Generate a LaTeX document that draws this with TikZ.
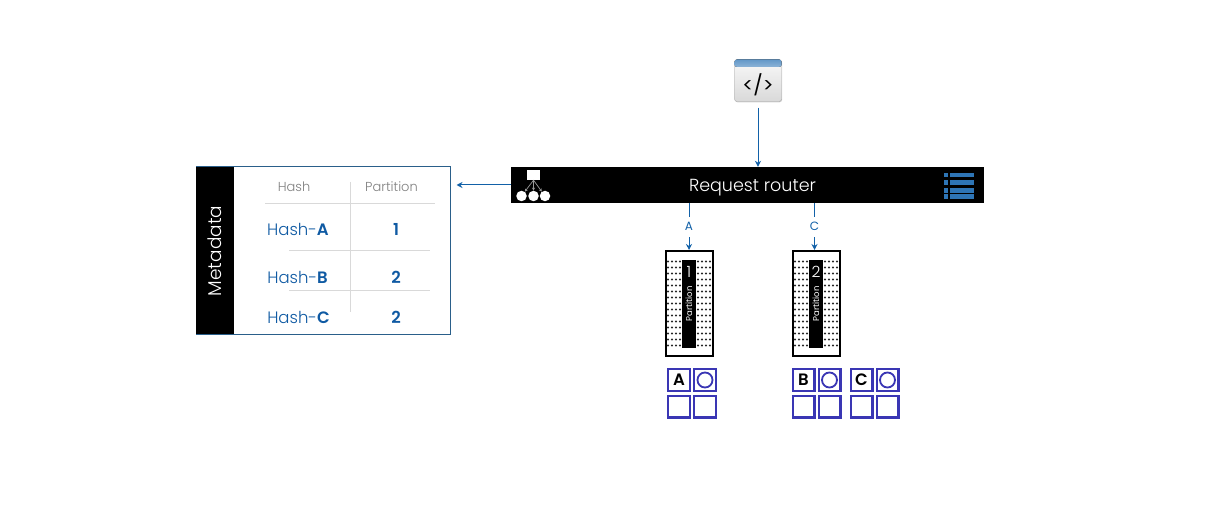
\documentclass[tikz,border=0pt]{standalone}
\usepackage{fontspec}
\setmainfont{Poppins Light}[BoldFont=Poppins SemiBold]
\newfontfamily\regfont{Poppins}
\usetikzlibrary{arrows.meta,shadows}
\definecolor{linkblue}{HTML}{1261A8}
\definecolor{textblue}{HTML}{0F5AA3}
\definecolor{slotblue}{HTML}{3A36B4}
\definecolor{framblue}{HTML}{2A5F8A}
\definecolor{listblue}{HTML}{2E75B6}
\definecolor{rulegray}{HTML}{D9D9D9}
\tikzset{
  link/.style={draw=linkblue,line width=1pt,-{Stealth[length=6pt,width=6pt]}},
  hashtext/.style={text=textblue,font=\fontsize{16.5}{17}\selectfont,inner sep=0pt},
  parttext/.style={text=textblue,font=\fontsize{16.5}{17}\selectfont\bfseries,inner sep=0pt},
  headtext/.style={text=gray,font=\fontsize{13}{13}\selectfont,inner sep=0pt},
  tablerule/.style={draw=rulegray,line width=1pt},
  slot/.style={draw=slotblue,line width=2.4pt,fill=white,minimum size=21.6pt,inner sep=0pt,
    font=\fontsize{16.5}{16}\selectfont\bfseries},
  partbox/.style={draw=black,line width=2pt,fill=white,minimum width=47pt,minimum height=105pt,inner sep=0pt},
  partbar/.style={fill=black,minimum width=14pt,minimum height=88pt,inner sep=0pt},
  linktext/.style={fill=white,text=linkblue,font=\regfont\fontsize{12}{12}\selectfont,inner xsep=2pt,minimum height=20pt}
}
\begin{document}
\begin{tikzpicture}[x=1pt,y=-1pt]
\useasboundingbox (0,0) rectangle (1206,518);
% client window
\node[draw=gray!70,rounded corners=2.5pt,minimum width=47pt,minimum height=42pt,inner sep=0pt,
  top color=white!95!gray,bottom color=gray!30,drop shadow={shadow xshift=0.6pt,shadow yshift=-0.8pt,opacity=.35}] (client) at (758,80.5) {};
\fill[rounded corners=2.5pt,top color=listblue!75,bottom color=listblue!55!white] (734.5,59.5) rectangle (781.5,67) -- cycle;
\node[font=\regfont\fontsize{20}{20}\selectfont,inner sep=0pt] (code) at (758,85) {</>};
% router
\node[fill=black,minimum width=473pt,minimum height=36pt,inner sep=0pt] (router) at (747.5,185) {};
\node[text=white,font=\fontsize{17.5}{18}\selectfont,inner sep=0pt] (routertext) at (752.5,187.5) {Request router};
\node[fill=white,minimum width=13pt,minimum height=10pt,inner sep=0pt] (roottree) at (533.5,175) {};
\foreach \n/\x in {a/521.5,b/533.5,c/545}{
  \node[circle,fill=white,minimum size=10.5pt,inner sep=0pt] (leaf\n) at (\x,196) {};
  \draw[gray!80,line width=.7pt,-{Stealth[length=3pt,width=3pt]}] (roottree.south) -- (leaf\n);
}
\foreach \y/\h in {172.7/4.6,180/5.2,187.6/5,194/5.2}{
  \fill[listblue] (943.5,\y) rectangle +(4.5,\h);
  \fill[listblue] (950,\y) rectangle +(23.5,\h);
}
% metadata table
\node[draw=framblue,line width=1pt,fill=white,minimum width=254pt,minimum height=167pt,inner sep=0pt] (meta) at (323,250.5) {};
\fill[black] (196,167) rectangle (234,334);
\node[rotate=90,text=white,font=\fontsize{18.5}{19}\selectfont,inner sep=0pt] (metatext) at (215,251) {Metadata};
\draw[tablerule] (265,203.5) -- (435,203.5);
\draw[tablerule] (289,250.5) -- (430,250.5);
\draw[tablerule] (289,291) -- (430,291);
\draw[tablerule] (350.5,182) -- (350.5,312);
\node[headtext] (hashhead) at (294,186.5) {Hash};
\node[headtext] (parthead) at (391.5,186.5) {Partition};
\node[hashtext] (hasha) at (298,229) {Hash-\textbf{A}};
\node[parttext] (parta) at (396,229) {1};
\node[hashtext] (hashb) at (297.5,277) {Hash-\textbf{B}};
\node[parttext] (partb) at (396,277) {2};
\node[hashtext] (hashc) at (298.5,317) {Hash-\textbf{C}};
\node[parttext] (partc) at (396,317) {2};
% partitions
\foreach \p/\x in {1/689,2/816}{
  \node[partbox] (part\p) at (\x,303.5) {};
  \foreach \i in {0,...,14}{
    \foreach \c in {-21,-17,-13,-9,9,13,17,21}{
      \fill[black!85] (\x+\c,261.5+6*\i) circle[radius=1.15];
    }
  }
  \node[partbar] (bar\p) at (\x,304) {};
  \node[text=white,font=\fontsize{15.5}{16}\selectfont,inner sep=0pt] (num\p) at (\x,272) {\p};
  \node[rotate=90,text=white,font=\regfont\fontsize{8.5}{9}\selectfont,inner sep=0pt] (label\p) at (\x,304) {Partition};
}
% shards
\foreach \s/\x in {A/679,B/803.5,C/861.5}{
  \node[slot] (slot\s) at (\x,380) {\s};
  \node[slot] (ring\s) at (\x+26,380) {};
  \draw[slotblue,line width=1.8pt] (ring\s) circle[radius=7.5];
  \node[slot] (lowa\s) at (\x,406.5) {};
  \node[slot] (lowb\s) at (\x+26,406.5) {};
}
% links
\draw[link,shorten <=6pt] (client.south) -- (client.south |- router.north);
\draw[link,shorten >=6pt] (router.west) -- (router.west -| meta.east);
\draw[link] (router.south -| part1.north) -- node[linktext] (linka) {A} (part1.north);
\draw[link] ([xshift=-1.5pt]router.south -| part2.north) -- node[linktext] (linkc) {C} ([xshift=-1.5pt]part2.north);
\end{tikzpicture}
\end{document}
